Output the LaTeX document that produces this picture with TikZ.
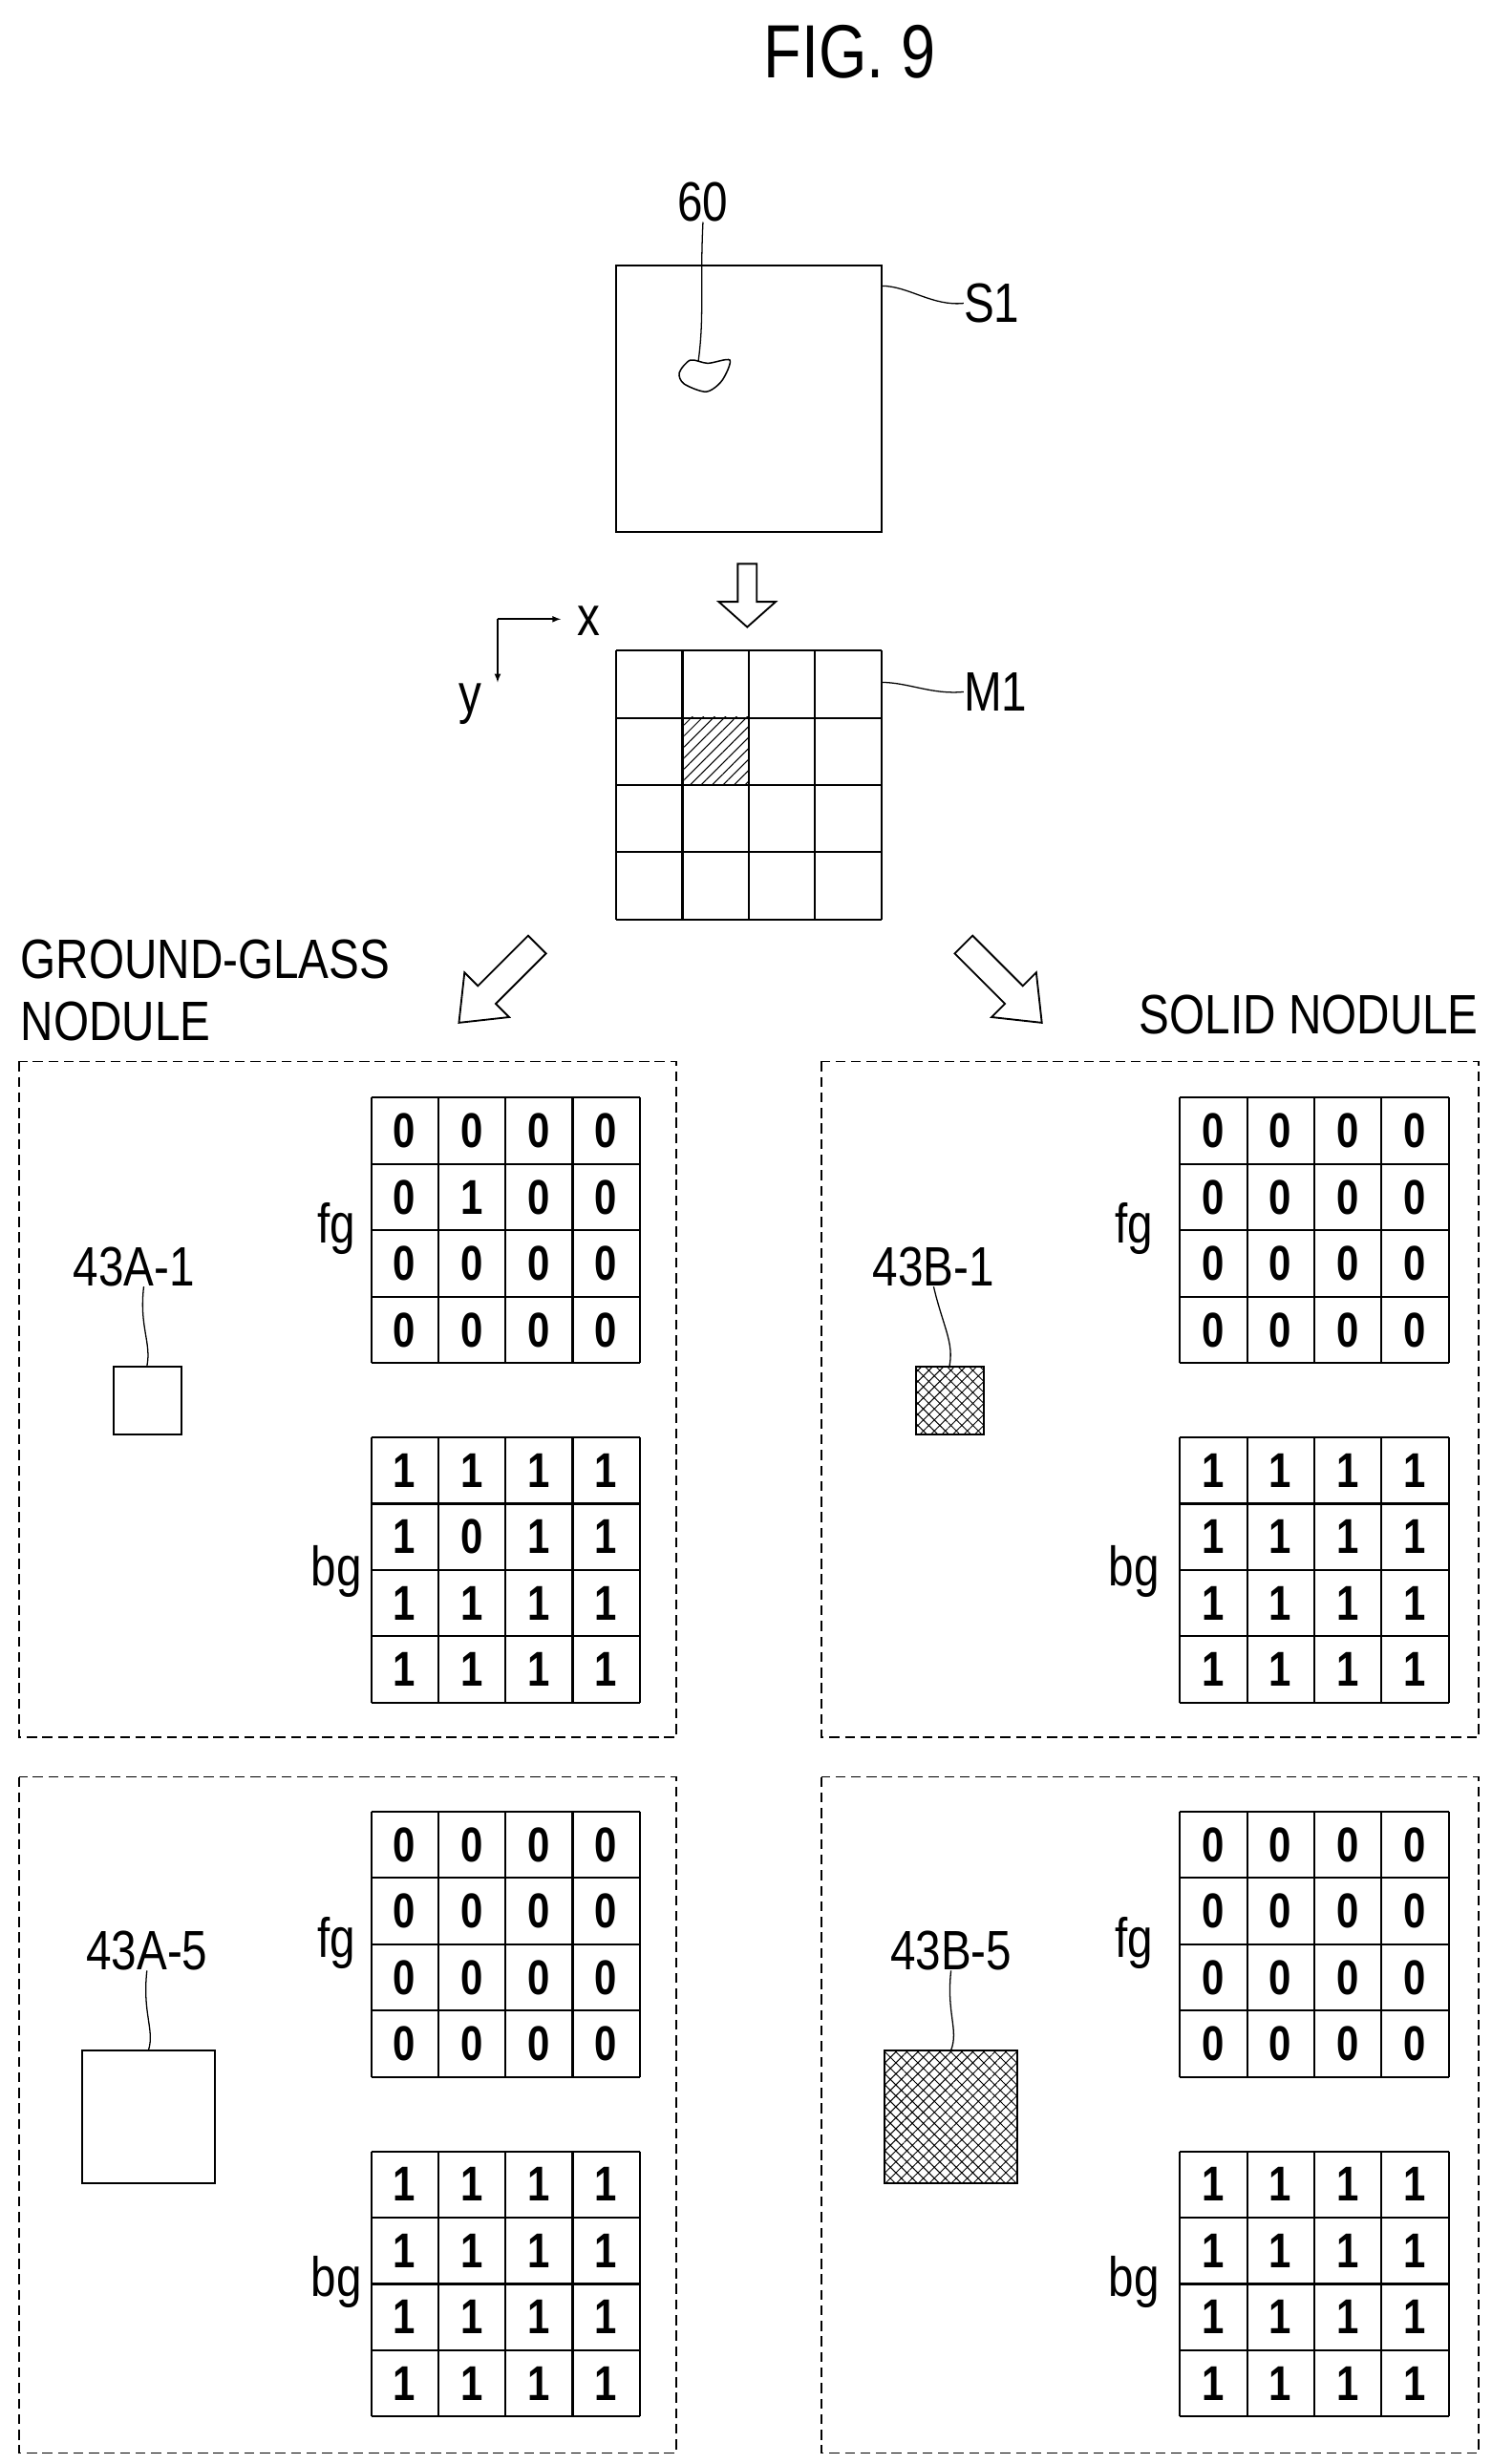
\documentclass[tikz,border=0pt]{standalone}
\usepackage{fontspec}
\setmainfont{Liberation Sans}[FakeStretch=0.82]
\usetikzlibrary{patterns.meta}
\begin{document}
\begin{tikzpicture}[x=0.05cm,y=-0.05cm,
  ln/.style={line width=1.8pt},
  lbl/.style={font=\fontsize{50}{56}\selectfont, inner sep=0},
  dig/.style={font=\fontsize{44}{50}\selectfont\bfseries, inner sep=0},
  panel/.style={line width=1.4pt, dash pattern=on 9pt off 5pt},
  lead/.style={line width=1.1pt},
  harrow/.pic={\draw[line width=1.6pt,fill=white] (-6,0)--(6,0)--(6,24)--(18,24)--(0,40)--(-18,24)--(-6,24)--cycle;},
  harrowl/.pic={\draw[line width=1.6pt,fill=white] (-8,0)--(8,0)--(8,45)--(20,45)--(0,70)--(-20,45)--(-8,45)--cycle;}]
\useasboundingbox (0,0) rectangle (944,1560);
\node[lbl,font=\fontsize{68}{72}\selectfont] (title) at (538,33) {FIG. 9};
% S1
\draw[ln] (390,168) rectangle (558,337);
\node[lbl,anchor=west] (s1) at (610,192) {S1};
\draw[lead] (558,181) .. controls (575,181) and (590,194) .. (s1.west);
\draw[line width=1.3pt] plot[smooth cycle] coordinates {(430,236) (437,228) (448,230) (462,228) (457,241) (447,248) (433,243)};
\node[lbl] (n60) at (445,128) {60};
\draw[lead] (n60.south) .. controls (443,180) and (446,200) .. (442,229);
% arrow down
\pic at (473,357) {harrow};
% axes
\coordinate (o) at (315,392);
\draw[line width=1.6pt,-latex] (o) -- (355,392) coordinate (xe);
\draw[line width=1.6pt,-latex] (o) -- (315,432) coordinate (ye);
\node[lbl] (xl) at (373,393) {x};
\node[lbl] (yl) at (298,446) {y};
% M1
\fill[pattern={Lines[angle=45,distance=7pt,line width=0.9pt]}] (432,454) rectangle (474,497);
\foreach \i in {0,...,4}{
  \draw[ln] (390+42*\i,412) -- (390+42*\i,582);
  \draw[ln] (390,412+42.5*\i) -- (558,412+42.5*\i);}
\node[lbl,anchor=west] (m1) at (610,438) {M1};
\draw[lead] (558,432) .. controls (575,432) and (590,440) .. (m1.west);
% diagonal arrows
\pic[rotate=-45] at (340,598) {harrowl};
\pic[rotate=45] at (610,598) {harrowl};
\node[lbl,anchor=north west,align=left] (gg) at (13,595) {GROUND-GLASS\\NODULE};
\node[lbl,anchor=north east] (sn) at (936,630) {SOLID NODULE};
% panels
\foreach \px/\py in {12/672,520/672,12/1125,520/1125}
  \draw[panel] (\px,\py) rectangle (\px+416,\py+428);
% grids
\newcommand{\mygrid}[3]{% x, y, list
  \foreach \i in {0,...,4}{
    \draw[ln] (#1+42.5*\i,#2) -- (#1+42.5*\i,#2+168);
    \draw[ln] (#1,#2+42*\i) -- (#1+170,#2+42*\i);}
  \foreach \v [count=\k from 0] in #3{
    \pgfmathtruncatemacro{\c}{mod(\k,4)}
    \pgfmathtruncatemacro{\r}{div(\k,4)}
    \node[dig] at (#1+21+42.5*\c,#2+21+42*\r) {\v};}}
\def\zeros{0,0,0,0,0,0,0,0,0,0,0,0,0,0,0,0}
\def\ones{1,1,1,1,1,1,1,1,1,1,1,1,1,1,1,1}
\mygrid{235}{695}{{0,0,0,0,0,1,0,0,0,0,0,0,0,0,0,0}}
\mygrid{235}{910}{{1,1,1,1,1,0,1,1,1,1,1,1,1,1,1,1}}
\mygrid{747}{695}{\zeros}
\mygrid{747}{910}{\ones}
\mygrid{235}{1147}{\zeros}
\mygrid{235}{1362}{\ones}
\mygrid{747}{1147}{\zeros}
\mygrid{747}{1362}{\ones}
\foreach \gx in {213,718}{
  \node[lbl] at (\gx,778) {fg};
  \node[lbl] at (\gx,995) {bg};
  \node[lbl] at (\gx,1230) {fg};
  \node[lbl] at (\gx,1445) {bg};}
% nodule boxes
\draw[ln] (72,865) rectangle (115,908);
\node[lbl] (a1) at (85,802) {43A-1};
\draw[lead] (a1.south) ++(6,0) .. controls (88,840) and (96,850) .. (93,865);
\draw[ln,pattern={Hatch[angle=45,distance=7pt,line width=0.8pt]}] (580,865) rectangle (623,908);
\node[lbl] (b1) at (591,802) {43B-1};
\draw[lead] (b1.south) .. controls (597,840) and (604,850) .. (601,865);
\draw[ln] (52,1298) rectangle (136,1382);
\node[lbl] (a5) at (93,1235) {43A-5};
\draw[lead] (a5.south) .. controls (90,1275) and (98,1285) .. (94,1298);
\draw[ln,pattern={Hatch[angle=45,distance=7pt,line width=0.8pt]}] (560,1298) rectangle (644,1382);
\node[lbl] (b5) at (602,1235) {43B-5};
\draw[lead] (b5.south) .. controls (599,1275) and (607,1285) .. (602,1298);
\end{tikzpicture}
\end{document}
